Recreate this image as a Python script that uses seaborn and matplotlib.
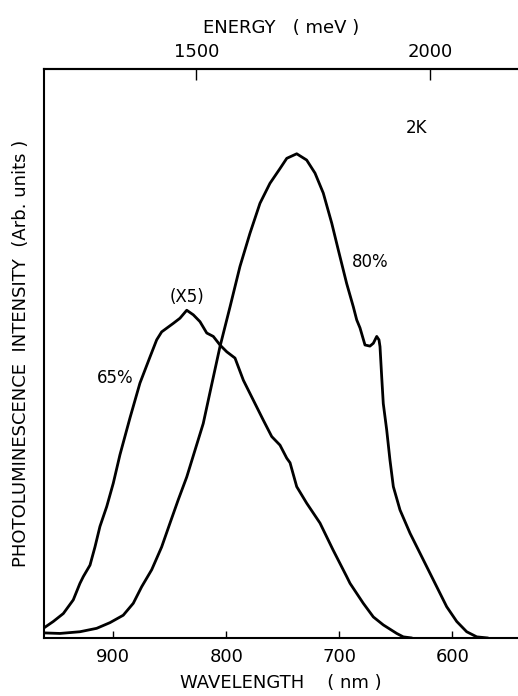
import numpy as np
import pandas as pd
import matplotlib
matplotlib.use("Agg")
import matplotlib.pyplot as plt
import seaborn as sns

# Photoluminescence spectra at 2 K (wavelength in nm, intensity in arbitrary units)
wavelength_65 = [961.9, 953.1, 944.2, 935.4, 929.5, 926.5, 920.6, 916.2, 911.8, 905.8,
                 900.0, 894.1, 885.2, 876.4, 867.5, 861.6, 857.2, 846.9, 841.0, 835.0,
                 829.2, 823.3, 817.3, 811.5, 805.6, 799.6, 792.3, 784.9, 776.1, 767.3,
                 759.8, 752.5, 746.5, 743.6, 737.7, 728.9, 717.1, 705.6, 693.5, 690.5,
                 678.8, 669.9, 661.1, 649.2, 643.4, 635.7]
intensity_65 = [1.7, 2.9, 4.3, 6.7, 9.6, 10.8, 12.8, 16.0, 19.6, 23.1,
                27.2, 32.2, 38.7, 44.8, 49.4, 52.4, 53.8, 55.3, 56.2, 57.6,
                56.8, 55.6, 53.6, 53.0, 51.5, 50.3, 49.2, 45.3, 41.8, 38.3,
                35.4, 33.9, 31.6, 30.8, 26.6, 23.7, 20.2, 15.5, 10.8, 9.6,
                6.1, 3.7, 2.3, 0.8, 0.2, 0.0]

wavelength_80 = [961.9, 947.2, 929.5, 914.7, 902.9, 891.2, 882.3, 874.9, 866.0, 857.2,
                 849.8, 842.5, 835.0, 827.7, 820.4, 814.4, 805.6, 796.7, 787.9, 779.1,
                 770.2, 761.4, 752.5, 746.5, 737.7, 728.9, 721.5, 714.2, 706.7, 700.9,
                 693.5, 687.6, 684.6, 681.7, 677.3, 672.9, 669.9, 666.9, 664.9, 664.0,
                 662.5, 661.1, 658.1, 655.2, 652.2, 646.3, 637.4, 628.6, 616.8, 605.0,
                 596.1, 587.3, 578.4, 568.4]
intensity_80 = [0.9, 0.8, 1.1, 1.7, 2.7, 4.0, 6.1, 9.0, 12.0, 16.0,
                20.2, 24.3, 28.3, 33.0, 37.7, 43.2, 51.2, 58.2, 65.3, 71.1,
                76.4, 79.9, 82.5, 84.3, 85.1, 84.0, 81.7, 78.2, 72.9, 68.2,
                62.3, 58.2, 55.9, 54.5, 51.5, 51.3, 51.8, 53.0, 52.4, 51.2,
                45.9, 41.2, 36.6, 31.3, 26.6, 22.5, 18.4, 14.9, 10.2, 5.5,
                2.9, 1.1, 0.2, 0.0]

wavelength_ticks = [900, 800, 700, 600]
energy_ticks = [1500, 2000]

# annotations: (text, wavelength, intensity)
annotations = [("2K", 632, 89.6), ("80%", 673, 66.1),
               ("(X5)", 835, 59.9), ("65%", 898, 45.7)]

df = pd.concat([
    pd.DataFrame({"wavelength": wavelength_65, "intensity": intensity_65, "sample": "65%"}),
    pd.DataFrame({"wavelength": wavelength_80, "intensity": intensity_80, "sample": "80%"}),
])

sns.set_style("white")
plt.rcParams["font.family"] = ["DejaVu Sans"]
plt.rcParams.update({"text.color": "black", "axes.labelcolor": "black",
                     "xtick.color": "black", "ytick.color": "black"})

fig = plt.figure(figsize=(5.18, 6.96), dpi=100)
ax = fig.add_axes([44 / 518, 58 / 696, 474 / 518, 569 / 696])

sns.lineplot(data=df, x="wavelength", y="intensity", units="sample",
             estimator=None, sort=False, color="black", linewidth=2.0, ax=ax)

ax.set_xlim(961.3, 541.9)
ax.set_ylim(0, 100)
ax.set_xticks(wavelength_ticks)
ax.set_yticks([])
ax.tick_params(axis="x", direction="in", length=5, width=1.0, pad=7,
               labelsize=13, bottom=True, top=False)
for side in ("left", "bottom", "top"):
    ax.spines[side].set_visible(True)
    ax.spines[side].set_color("black")
    ax.spines[side].set_linewidth(1.5)
ax.spines["right"].set_visible(False)

ax.set_xlabel("WAVELENGTH    ( nm )", fontsize=13, labelpad=6)
ax.set_ylabel("PHOTOLUMINESCENCE  INTENSITY  (Arb. units )", fontsize=13, labelpad=10)

# energy scale along the top edge
def lam_to_mev(lam):
    lam = np.asarray(lam, dtype=float)
    return 1239840.0 / np.where(lam == 0, np.nan, lam)

def mev_to_lam(e):
    e = np.asarray(e, dtype=float)
    return 1239840.0 / np.where(e == 0, np.nan, e)

top = ax.secondary_xaxis("top", functions=(lam_to_mev, mev_to_lam))
top.set_xticks(energy_ticks)
top.tick_params(axis="x", direction="in", length=8, width=1.0, pad=6, labelsize=13)
top.spines["top"].set_linewidth(1.5)
top.set_xlabel("ENERGY   ( meV )", fontsize=13, labelpad=7)

for text, lam, inten in annotations:
    ax.text(lam, inten, text, fontsize=12, ha="center", va="center")

fig.savefig("out.png", dpi=100)
